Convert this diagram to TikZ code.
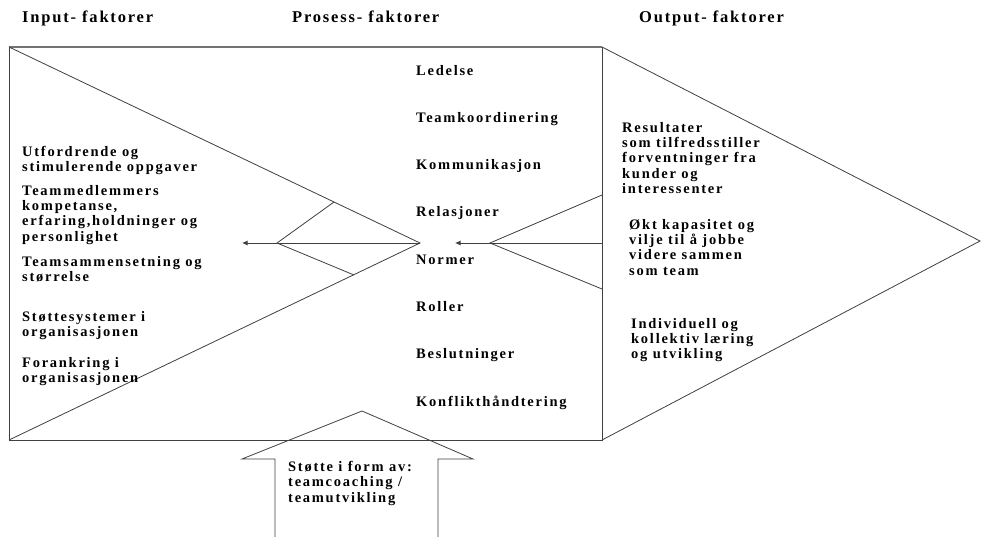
\documentclass[tikz,border=0pt]{standalone}
\usepackage{fontspec}
\usetikzlibrary{arrows.meta}
\newfontfamily\lblfont[LetterSpace=12]{Liberation Serif}
\newfontfamily\headfont[LetterSpace=11]{Liberation Serif}
\begin{document}
\begin{tikzpicture}[x=1pt,y=-1pt,
  edge/.style={draw=black!75,line width=0.8pt},
  label/.style={inner sep=0pt,align=left,anchor=north west,
    font=\lblfont\bfseries\fontsize{14.5}{15.3}\selectfont},
  item/.style={inner sep=0pt,anchor=base west,
    font=\lblfont\bfseries\fontsize{14.5}{15.3}\selectfont},
  heading/.style={inner sep=0pt,anchor=base west,
    font=\headfont\bfseries\fontsize{16.5}{18}\selectfont},
  tip/.style={-{Latex[length=5.5pt,width=5pt]}}]
\useasboundingbox (0,0) rectangle (981,537);
\fill[white] (0,0) rectangle (981,537);

% corner points of the process box and the two chevrons
\coordinate (TL) at (9,47);
\coordinate (TR) at (602,47);
\coordinate (BR) at (602,440);
\coordinate (BL) at (9,440);
\coordinate (LA) at (420,243);
\coordinate (LI) at (277,243);
\coordinate (LU) at (334,202);
\coordinate (LD) at (354,275);
\coordinate (LT) at (242,243);
\coordinate (RA) at (980,241);
\coordinate (RI) at (490,243);
\coordinate (RU) at (602,195);
\coordinate (RD) at (602,289);
\coordinate (RM) at (602,243);
\coordinate (RT) at (455,243);

% process box
\draw[draw=black!55,line width=1.6pt] (TL) -- (TR);
\draw[edge] (TR) -- (BR) -- (BL) -- (TL);
% input chevron
\draw[edge] (TL) -- (LA) -- (BL);
\draw[edge] (LU) -- (LI) -- (LD);
\draw[edge,tip] (LA) -- (LT);
% output chevron
\draw[edge] (TR) -- (RA) -- (BR);
\draw[edge] (RU) -- (RI) -- (RD);
\draw[edge,tip] (RM) -- (RT);

% support arrow from below
\coordinate (SA) at (362,411);
\draw[edge] (275,537) -- (275,459) -- (242,459) -- (SA)
  -- (473,459) -- (438,459) -- (438,537);

% headings
\node[heading] (hin)  at (22,23)  {Input- faktorer};
\node[heading] (hpro) at (292,23) {Prosess- faktorer};
\node[heading] (hout) at (639,23) {Output- faktorer};

% input factors
\node[label] (in1) at (22,146) {Utfordrende og\\stimulerende oppgaver};
\node[label] (in2) at (22,185) {Teammedlemmers\\kompetanse,\\erfaring,holdninger og\\personlighet};
\node[label] (in3) at (22,256) {Teamsammensetning og\\størrelse};
\node[label] (in4) at (22,311) {Støttesystemer i\\organisasjonen};
\node[label] (in5) at (22,357) {Forankring i\\organisasjonen};

% process factors
\node[item] (p1) at (416,76)  {Ledelse};
\node[item] (p2) at (416,123) {Teamkoordinering};
\node[item] (p3) at (416,170) {Kommunikasjon};
\node[item] (p4) at (416,217) {Relasjoner};
\node[item] (p5) at (416,264) {Normer};
\node[item] (p6) at (416,311) {Roller};
\node[item] (p7) at (416,358) {Beslutninger};
\node[item] (p8) at (416,406) {Konflikthåndtering};

% output factors
\node[label] (out1) at (622,122) {Resultater\\som tilfredsstiller\\forventninger fra\\kunder og\\interessenter};
\node[label] (out2) at (629,219) {Økt kapasitet og\\vilje til å jobbe\\videre sammen\\som team};
\node[label] (out3) at (631,318) {Individuell og\\kollektiv læring\\og utvikling};

% support text
\node[label] (sup1) at (288,461) {Støtte i form av:\\teamcoaching /\\teamutvikling};
\end{tikzpicture}
\end{document}
